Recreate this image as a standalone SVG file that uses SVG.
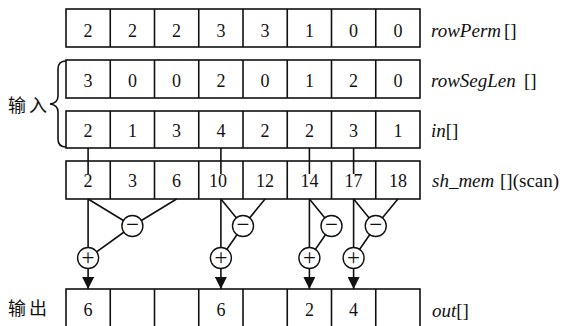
<svg xmlns="http://www.w3.org/2000/svg" width="566" height="326" viewBox="0 0 566 326">
<defs>
<style>
.box{fill:#fff;stroke:#111;stroke-width:1.6}
.div{stroke:#111;stroke-width:1.6}
.num{font-family:"Liberation Serif","Times New Roman",serif;font-size:18px;fill:#111;text-anchor:middle}
.lab{font-family:"Liberation Serif","Times New Roman",serif;font-size:19px;fill:#111}
.it{font-style:italic}
.cn{font-family:"Noto Sans CJK SC","Liberation Sans",sans-serif;font-size:18px;fill:#111;letter-spacing:3px}
.ln{stroke:#111;stroke-width:1.6;fill:none}
.op{fill:#fff;stroke:#111;stroke-width:1.4}
.sym{font-family:"Liberation Serif","Times New Roman",serif;font-size:23px;fill:#111;text-anchor:middle}
</style>
<marker id="arr" markerUnits="userSpaceOnUse" markerWidth="12" markerHeight="12" refX="12" refY="6" orient="auto">
<path d="M0,0 L12,6 L0,12 z" fill="#111"/>
</marker>
</defs>
<rect width="566" height="326" fill="#fff"/>

<g id="rowPerm">
<rect class="box" x="66" y="9" width="354" height="38"/>
<path class="div" d="M110.25,9V47M154.5,9V47M198.75,9V47M243,9V47M287.25,9V47M331.5,9V47M375.75,9V47"/>
<text class="num" y="36.5"><tspan x="88.1">2</tspan><tspan x="132.4">2</tspan><tspan x="176.6">2</tspan><tspan x="220.9">3</tspan><tspan x="265.1">3</tspan><tspan x="309.4">1</tspan><tspan x="353.6">0</tspan><tspan x="397.9">0</tspan></text>
<text class="lab" y="36.5"><tspan class="it" x="431">rowPerm</tspan><tspan x="504">[]</tspan></text>
</g>

<g id="rowSegLen">
<rect class="box" x="66" y="60" width="354" height="38"/>
<path class="div" d="M110.25,60V98M154.5,60V98M198.75,60V98M243,60V98M287.25,60V98M331.5,60V98M375.75,60V98"/>
<text class="num" y="87"><tspan x="88.1">3</tspan><tspan x="132.4">0</tspan><tspan x="176.6">0</tspan><tspan x="220.9">2</tspan><tspan x="265.1">0</tspan><tspan x="309.4">1</tspan><tspan x="353.6">2</tspan><tspan x="397.9">0</tspan></text>
<text class="lab" y="87"><tspan class="it" x="431">rowSegLen</tspan><tspan x="524">[]</tspan></text>
</g>

<g id="in">
<rect class="box" x="66" y="111" width="354" height="37"/>
<path class="div" d="M110.25,111V148M154.5,111V148M198.75,111V148M243,111V148M287.25,111V148M331.5,111V148M375.75,111V148"/>
<text class="num" y="137"><tspan x="88.1">2</tspan><tspan x="132.4">1</tspan><tspan x="176.6">3</tspan><tspan x="220.9">4</tspan><tspan x="265.1">2</tspan><tspan x="309.4">2</tspan><tspan x="353.6">3</tspan><tspan x="397.9">1</tspan></text>
<text class="lab" y="137"><tspan class="it" x="431">in</tspan><tspan>[]</tspan></text>
</g>

<g id="input-label">
<path class="ln" d="M66,61 Q58,61 58,69 L58,96 Q58,103 50,104 Q58,105 58,112 L58,139 Q58,147 66,147"/>
<text class="cn" x="8" y="111.5">输入</text>
</g>

<g id="sh_mem">
<rect class="box" x="66" y="161" width="354" height="38"/>
<path class="div" d="M110.25,161V199M154.5,161V199M198.75,161V199M243,161V199M287.25,161V199M331.5,161V199M375.75,161V199"/>
<text class="num" y="187"><tspan x="88.1">2</tspan><tspan x="132.4">3</tspan><tspan x="176.6">6</tspan><tspan x="218">10</tspan><tspan x="265.1">12</tspan><tspan x="309.4">14</tspan><tspan x="353.6">17</tspan><tspan x="397.9">18</tspan></text>
<text class="lab" y="187"><tspan class="it" x="432">sh_mem</tspan><tspan x="500">[](scan)</tspan></text>
</g>

<g id="out">
<rect class="box" x="66" y="289" width="354" height="50"/>
<path class="div" d="M110.25,289V330M154.5,289V330M198.75,289V330M243,289V330M287.25,289V330M331.5,289V330M375.75,289V330"/>
<text class="num" y="316"><tspan x="88.1">6</tspan><tspan x="220.9">6</tspan><tspan x="309.4">2</tspan><tspan x="353.6">4</tspan></text>
<text class="lab" y="316.5"><tspan class="it" x="432">out</tspan><tspan>[]</tspan></text>
<text class="cn" x="8" y="315">输出</text>
</g>

<g id="connectors">
<path class="ln" d="M88.1,148V174M220.9,148V174M309.4,148V174M353.6,148V174"/>
<path class="ln" marker-end="url(#arr)" d="M88.1,199V289"/>
<path class="ln" marker-end="url(#arr)" d="M220.9,199V289"/>
<path class="ln" marker-end="url(#arr)" d="M309.4,199V289"/>
<path class="ln" marker-end="url(#arr)" d="M353.6,199V289"/>
<path class="ln" d="M88.1,199L132.4,226L176.6,199M132.4,226L88.1,258"/>
<path class="ln" d="M220.9,199L243,226L265.1,199M243,226L220.9,258"/>
<path class="ln" d="M309.4,199L331.5,226M331.5,226L309.4,258"/>
<path class="ln" d="M353.6,199L375.75,226L397.9,199M375.75,226L353.6,258"/>
</g>

<g id="minus1"><circle class="op" cx="132.4" cy="226" r="10.5"/><text class="sym" x="132.4" y="232">−</text></g>
<g id="plus1"><circle class="op" cx="88.1" cy="258" r="10.5"/><text class="sym" x="88.1" y="264.5">+</text></g>
<g id="minus2"><circle class="op" cx="243" cy="226" r="10.5"/><text class="sym" x="243" y="232">−</text></g>
<g id="plus2"><circle class="op" cx="220.9" cy="258" r="10.5"/><text class="sym" x="220.9" y="264.5">+</text></g>
<g id="minus3"><circle class="op" cx="331.5" cy="226" r="10.5"/><text class="sym" x="331.5" y="232">−</text></g>
<g id="plus3"><circle class="op" cx="309.4" cy="258" r="10.5"/><text class="sym" x="309.4" y="264.5">+</text></g>
<g id="minus4"><circle class="op" cx="375.75" cy="226" r="10.5"/><text class="sym" x="375.75" y="232">−</text></g>
<g id="plus4"><circle class="op" cx="353.6" cy="258" r="10.5"/><text class="sym" x="353.6" y="264.5">+</text></g>
</svg>
